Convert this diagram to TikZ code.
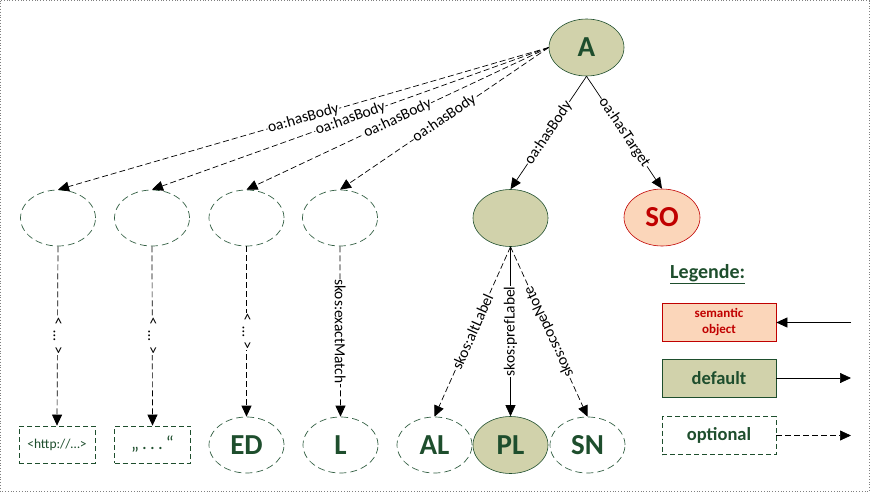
\documentclass[tikz,border=0pt]{standalone}
\usepackage{fontspec}
\setmainfont{Carlito}
\usetikzlibrary{shapes.geometric,arrows.meta}
\definecolor{olive}{HTML}{D1D2AB}
\definecolor{dkgreen}{HTML}{1E4E2D}
\definecolor{ellgreen}{HTML}{335F43}
\definecolor{peach}{HTML}{FBD6BA}
\definecolor{sored}{HTML}{C00000}
\begin{document}
\begin{tikzpicture}[x=1pt,y=-1pt,
  bigletter/.style={font=\fontsize{29}{30}\selectfont\bfseries, text=dkgreen},
  defell/.style={ellipse, draw=dkgreen, line width=0.6pt, fill=olive,
    minimum width=75pt, minimum height=57pt, inner sep=0pt},
  optell/.style={ellipse, draw=ellgreen, dash pattern=on 7pt off 4pt, line width=0.7pt,
    minimum width=75pt, minimum height=56pt, inner sep=0pt},
  optrect/.style={rectangle, draw=dkgreen, dash pattern=on 5pt off 3pt, line width=0.7pt,
    minimum width=76pt, minimum height=37pt, inner sep=0pt, text=dkgreen},
  soell/.style={ellipse, draw=sored, line width=0.6pt, fill=peach,
    minimum width=76pt, minimum height=57pt, inner sep=0pt,
    font=\fontsize{29}{30}\selectfont\bfseries, text=sored},
  legbox/.style={rectangle, minimum width=114pt, minimum height=38pt, inner sep=0pt,
    line width=0.7pt, align=center},
  conn/.style={draw=black, line width=0.7pt, -{Triangle[length=11pt,width=10pt]}},
  optconn/.style={conn, dash pattern=on 6pt off 3pt},
  lbl/.style={font=\fontsize{15.5}{16}\selectfont, fill=white, inner sep=0.6pt, text=black},
]
\useasboundingbox (0,0) rectangle (871,493);
\draw[gray, dotted, line width=0.8pt] (0.5,0.5) rectangle (869.5,491.5);

% annotation and its bodies
\node[defell, bigletter] (A) at (586.5,47.5) {A};
\node[optell] (e1) at (58,218) {};
\node[optell] (e2) at (152,218) {};
\node[optell] (e3) at (246.5,218) {};
\node[optell] (e4) at (340,218) {};
\node[defell] (B) at (510.5,218) {};
\node[soell] (SO) at (662,217.5) {SO};

% leaves
\node[optrect, font=\fontsize{13.5}{14}\selectfont] (r1) at (57,444.5) {<http://…>};
\node[optrect, font=\fontsize{19}{20}\selectfont] (r2) at (152.5,444.5) {„\,.\,.\,.\,“};
\node[optell, bigletter] (ED) at (246.5,445) {ED};
\node[optell, bigletter] (L) at (340.5,445) {L};
\node[optell, bigletter] (AL) at (434.5,445) {AL};
\node[optell, bigletter] (SN) at (587.5,445) {SN};
\node[defell, bigletter] (PL) at (510.5,445) {PL};

% connectors from the annotation
\draw[optconn] (A.west) -- node[lbl, sloped] {oa:hasBody} (e1.north);
\draw[optconn] (A.west) -- node[lbl, sloped] {oa:hasBody} (e2.north);
\draw[optconn] (A.west) -- node[lbl, sloped] {oa:hasBody} (e3.north);
\draw[optconn] (A.west) -- node[lbl, sloped] {oa:hasBody} (e4.north);
\draw[conn] (A.south) -- node[lbl, sloped] {oa:hasBody} (B.north);
\draw[conn] (A.south) -- node[lbl, sloped] {oa:hasTarget} (SO.north);

% connectors down to the leaves
\draw[optconn] (e1.south) -- node[lbl, rotate=-90] {<\hspace{5pt}…\hspace{5pt}>} (r1.north);
\draw[optconn] (e2.south) -- node[lbl, rotate=-90] {<\hspace{5pt}…\hspace{5pt}>} (r2.north);
\draw[optconn] (e3.south) -- node[lbl, rotate=-90] {<\hspace{5pt}…\hspace{5pt}>} (ED.north);
\draw[optconn] (e4.south) -- node[lbl, rotate=-90] {skos:exactMatch} (L.north);
\draw[optconn] (B.south) -- node[lbl, rotate=66] {skos:altLabel} (AL.north);
\draw[conn] (B.south) -- node[lbl, rotate=90] {skos:prefLabel} (PL.north);
\draw[optconn] (B.south) -- node[lbl, rotate=115] {skos:scopeNote} (SN.north);

% legend
\node[font=\fontsize{20}{22}\selectfont\bfseries, text=dkgreen] (leg) at (707.7,274) {\underline{Legende:}};
\node[legbox, draw=sored, fill=peach, text=sored,
  font=\fontsize{13}{16}\selectfont\bfseries] (lso) at (719,322.5) {semantic\\object};
\node[legbox, draw=dkgreen, fill=olive, text=dkgreen,
  font=\fontsize{18.5}{20}\selectfont\bfseries] (ldef) at (719,378) {default};
\node[legbox, draw=dkgreen, dash pattern=on 5pt off 3pt, text=dkgreen,
  font=\fontsize{18.5}{20}\selectfont\bfseries] (lopt) at (719,435.5) {optional};
\coordinate (cso) at (851,322.5);
\coordinate (cdef) at (851,378);
\coordinate (copt) at (851,435.5);
\draw[conn] (cso) -- (lso.east);
\draw[conn] (ldef.east) -- (cdef);
\draw[optconn] (lopt.east) -- (copt);
\end{tikzpicture}
\end{document}
